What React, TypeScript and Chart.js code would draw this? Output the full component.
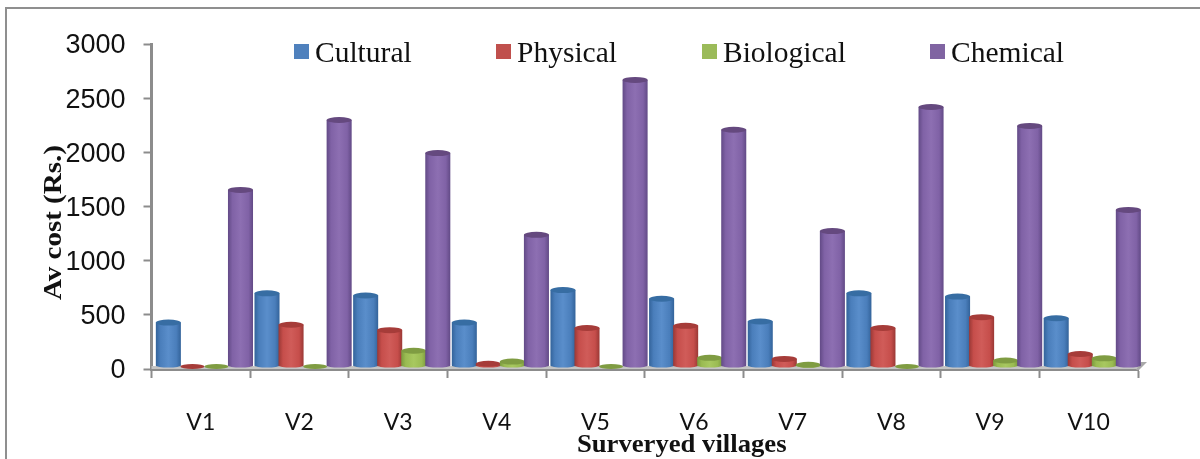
import React, { useEffect, useRef } from "react";
import { Chart, registerables } from "chart.js";

Chart.register(...registerables);

const categories = ["V1", "V2", "V3", "V4", "V5", "V6", "V7", "V8", "V9", "V10"];
const cultural = [410, 680, 660, 410, 710, 630, 420, 680, 650, 450];
const physical = [0, 390, 340, 30, 360, 380, 75, 360, 460, 120];
const biological = [0, 0, 150, 50, 0, 85, 20, 0, 60, 80];
const chemical = [1635, 2280, 1975, 1220, 2650, 2190, 1255, 2400, 2225, 1450];
const yTicks = [0, 500, 1000, 1500, 2000, 2500, 3000];

const AXIS = "#8c8c8c";
const SERIF = "'Liberation Serif'";

// [legend colour, dark edge, mid, light, top cap]
const palette: Record<string, string[]> = {
  Cultural: ["#4f81bd", "#33639a", "#4a7ebb", "#5a8ecb", "#376da3"],
  Physical: ["#c0504d", "#9a3835", "#c64e4b", "#d05c59", "#a63c39"],
  Biological: ["#9bbb59", "#7b9a3e", "#9abb52", "#a8c860", "#7f9c42"],
  Chemical: ["#8064a2", "#624a86", "#8062a6", "#8d6fb2", "#65497f"],
};

const legendX: Record<string, number> = { Cultural: 294, Physical: 496, Biological: 702, Chemical: 930 };

const framePlugin = {
  id: "frame",
  beforeDraw(chart: any) {
    const c = chart.ctx;
    c.save();
    c.strokeStyle = "#8f8f8f";
    c.lineWidth = 2;
    c.beginPath();
    c.moveTo(6, 459);
    c.lineTo(6, 8);
    c.lineTo(1200, 8);
    c.stroke();
    c.restore();
  },
};

const cylinderPlugin = {
  id: "cylinders",
  beforeDatasetsDraw(chart: any) {
    const c = chart.ctx;
    const shiftX = 3.6;
    const shiftY = -2;
    const bottom = chart.scales.y.bottom;
    const left = chart.scales.x.left;
    const right = chart.scales.x.right;
    // floor of the 3D box
    c.save();
    c.fillStyle = "#c4c4c4";
    c.fillRect(left, bottom - 3, right - left, 3);
    c.fillStyle = "#a8a8a8";
    c.beginPath();
    c.moveTo(right - 2, bottom + 1);
    c.lineTo(right + 1, bottom + 1);
    c.lineTo(right + 9, bottom - 7);
    c.lineTo(right + 3, bottom - 7);
    c.closePath();
    c.fill();
    c.restore();
    chart.data.datasets.forEach((ds: any, di: number) => {
      const p = palette[ds.label];
      chart.getDatasetMeta(di).data.forEach((el: any) => {
        const w = el.width + 1;
        const x0 = el.x + shiftX - w / 2;
        const x1 = x0 + w;
        const top = el.y + shiftY;
        const base = el.base + shiftY;
        const cx = (x0 + x1) / 2;
        const ry = 3;
        c.save();
        if (base - top < 1) {
          c.fillStyle = p[4];
          c.beginPath();
          c.ellipse(cx, base - 0.5, w / 2 - 0.5, 2.5, 0, 0, Math.PI * 2);
          c.fill();
          c.restore();
          return;
        }
        const g = c.createLinearGradient(x0, 0, x1, 0);
        g.addColorStop(0, p[1]);
        g.addColorStop(0.18, p[2]);
        g.addColorStop(0.5, p[3]);
        g.addColorStop(0.82, p[2]);
        g.addColorStop(1, p[1]);
        c.fillStyle = g;
        c.beginPath();
        c.moveTo(x0, top);
        c.lineTo(x0, base - 1);
        c.ellipse(cx, base - 1, w / 2, 2, 0, Math.PI, 0, true);
        c.lineTo(x1, top);
        c.closePath();
        c.fill();
        c.fillStyle = p[4];
        c.beginPath();
        c.ellipse(cx, top, w / 2, ry, 0, 0, Math.PI * 2);
        c.fill();
        c.restore();
      });
    });
    return false;
  },
};

const legendPlugin = {
  id: "topLegend",
  afterDraw(chart: any) {
    const c = chart.ctx;
    c.save();
    c.font = `29.5px ${SERIF}`;
    c.textBaseline = "alphabetic";
    c.textAlign = "left";
    chart.data.datasets.forEach((ds: any) => {
      const x = legendX[ds.label];
      c.fillStyle = palette[ds.label][0];
      c.fillRect(x, 44, 15, 15);
      c.fillStyle = "#111";
      c.fillText(ds.label, x + 21, 62);
    });
    c.restore();
  },
};

// Moves and stretches a native axis title about the given centre.
function placeTitle(scale: any, dx: number, dy: number, cx: number, cy: number, sx: number, sy: number) {
  if (scale.__placed) return;
  scale.__placed = true;
  const orig = scale.drawTitle;
  scale.drawTitle = function () {
    const c = this.ctx;
    c.save();
    c.translate(cx + dx, cy + dy);
    c.scale(sx, sy);
    c.translate(-cx, -cy);
    orig.call(this);
    c.restore();
  };
}

export default function App() {
  const ref = useRef<HTMLCanvasElement>(null);
  useEffect(() => {
    document.body.style.margin = "0";
    document.body.style.background = "#fff";
    const make = (label: string, data: number[]) => ({
      label,
      data,
      backgroundColor: palette[label][0],
      barPercentage: 1,
      categoryPercentage: 0.975,
    });
    const chart = new Chart(ref.current as HTMLCanvasElement, {
      type: "bar",
      data: {
        labels: categories,
        datasets: [
          make("Cultural", cultural),
          make("Physical", physical),
          make("Biological", biological),
          make("Chemical", chemical),
        ],
      },
      plugins: [framePlugin, cylinderPlugin, legendPlugin],
      options: {
        responsive: false,
        animation: false,
        layout: { padding: { left: 38, right: 62, top: 44, bottom: 2 } },
        plugins: { legend: { display: false }, tooltip: { enabled: false } },
        scales: {
          x: {
            afterFit: (s: any) => {
              s.height = 88;
              placeTitle(s, 37, 4, 645, 441, 1.067, 1);
            },
            grid: {
              display: true,
              drawOnChartArea: false,
              drawTicks: true,
              tickLength: 9,
              tickColor: AXIS,
              tickWidth: 2,
            },
            border: { display: true, color: AXIS, width: 3 },
            ticks: {
              color: "#111",
              padding: 31,
              maxRotation: 0,
              font: { family: "Lato, 'Open Sans'", size: 23 },
            },
            title: {
              display: true,
              text: "Surveryed villages",
              color: "#111",
              padding: 0,
              font: { family: SERIF, size: 25, weight: "bold" },
            },
          },
          y: {
            min: 0,
            max: 3000,
            afterFit: (s: any) => {
              s.width = 113.5;
              placeTitle(s, 1, 16, 52, 206, 1, 1.115);
            },
            afterBuildTicks: (s: any) => {
              s.ticks = yTicks.map((value) => ({ value }));
            },
            grid: {
              display: true,
              drawOnChartArea: false,
              drawTicks: true,
              tickLength: 8,
              tickColor: AXIS,
              tickWidth: 2,
            },
            border: { display: true, color: AXIS, width: 3 },
            ticks: {
              color: "#111",
              padding: 18,
              labelOffset: 2,
              callback: (v: any) => String(v),
              font: { family: "'Liberation Sans'", size: 27 },
            },
            title: {
              display: true,
              text: "Av cost (Rs.)",
              color: "#111",
              padding: 0,
              font: { family: SERIF, size: 26, weight: "bold" },
            },
          },
        },
      },
    } as any);
    return () => chart.destroy();
  }, []);
  return <canvas ref={ref} width={1200} height={459} style={{ display: "block", width: 1200, height: 459 }} />;
}
